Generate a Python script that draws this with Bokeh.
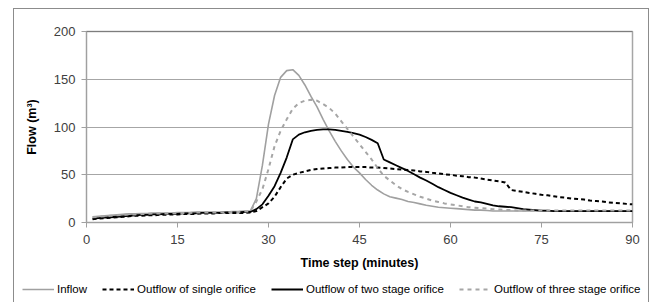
from bokeh.plotting import figure
from bokeh.models import Legend, LegendItem, Span, FixedTicker, Range1d
from bokeh.layouts import column
from bokeh.embed import file_html
from bokeh.resources import INLINE

time = list(range(1, 91))

inflow = [6, 6.5, 7, 7.5, 8, 8.5, 9, 9, 9.5, 9.5,
          10, 10, 10, 10, 10.5, 10.5, 10.5, 11, 11, 11,
          11, 11, 11, 11.5, 11.5, 12, 12, 25, 60, 103,
          133, 152, 159, 160, 154, 144, 132, 121, 108, 96,
          85, 75, 66, 58, 52, 45, 39, 34, 30, 27,
          25.5, 24, 22, 21, 19.5, 18, 17, 16, 15.5, 15,
          14.5, 14, 13.5, 13, 13, 12.5, 12, 12, 12, 12,
          12, 12, 12, 12, 12, 12, 12, 12, 12, 12,
          12, 12, 12, 12, 12, 12, 12, 12, 12, 12]

single = [3.5, 4, 4.5, 5, 5.5, 6, 6.5, 7, 7, 7.5,
          7.5, 8, 8, 8.5, 8.5, 9, 9, 9, 9.5, 9.5,
          9.5, 10, 10, 10, 10, 10, 10.5, 12, 16, 20,
          27, 37, 46, 50, 52, 53.5, 55, 56, 56.5, 57,
          57.5, 57.5, 58, 58, 58, 58, 57.5, 57.5, 57, 56.5,
          56, 55.5, 55, 54.5, 53.5, 53, 52, 51.5, 50.5, 50,
          49, 48.5, 47.5, 47, 46, 45, 44, 43, 42, 34,
          33, 32, 31, 30, 29, 28.5, 27.5, 26.5, 26, 25,
          24.5, 24, 23, 22.5, 22, 21, 20.5, 20, 19.5, 19]

two_stage = [4, 4.5, 5, 5.5, 6, 6.5, 7, 7.5, 8, 8,
             8.5, 8.5, 9, 9, 9, 9.5, 9.5, 9.5, 10, 10,
             10, 10, 10.5, 10.5, 10.5, 11, 11, 14, 19, 28,
             38, 52, 68, 87, 92, 94.5, 96, 97, 97.5, 97.5,
             97, 96, 95, 93.5, 92, 89.5, 86.5, 83, 66, 63,
             60, 57, 54, 50.5, 47, 44, 40.5, 37, 34, 31,
             28.5, 26, 24, 22, 21, 19.5, 18, 17, 16.5, 16,
             15, 14, 13.5, 13, 12.5, 12.5, 12, 12, 12, 12,
             12, 12, 12, 12, 12, 12, 12, 12, 12, 12]

three_stage = [5.5, 6, 6.5, 7, 7.5, 8, 8.5, 8.5, 9, 9,
               9.5, 9.5, 9.5, 9.5, 10, 10, 10, 10.5, 10.5, 10.5,
               10.5, 10.5, 10.5, 11, 11, 11.5, 11.5, 22, 35, 56,
               80, 96, 108, 119, 125, 127.5, 128.5, 127.5, 124, 120,
               114, 106, 98, 90, 82, 74, 66, 57, 49, 44,
               39, 35, 32, 29.5, 27, 25, 23, 21.5, 20, 19,
               18, 17, 16, 15.5, 15, 14.5, 14, 13.5, 13, 13,
               12.5, 12.5, 12.5, 12.5, 12.5, 12.5, 12.5, 12.5, 12.5, 12.5,
               12.5, 12.5, 12.5, 12.5, 12.5, 12.5, 12.5, 12.5, 12.5, 12.5]

x_ticks = [0, 15, 30, 45, 60, 75, 90]
y_ticks = [0, 50, 100, 150, 200]
labels = ["Inflow", "Outflow of single orifice", "Outflow of two stage orifice",
          "Outflow of three stage orifice"]

FONT = "Liberation Sans"
BORDER = "1px solid #8c8c8c"

p = figure(width=636, height=266, output_backend="svg", toolbar_location=None,
           x_range=Range1d(0, 90), y_range=Range1d(0, 200),
           min_border_left=72, min_border_right=18, min_border_top=22, min_border_bottom=53)
p.frame_align = False
p.styles = {"border-left": BORDER, "border-top": BORDER, "border-right": BORDER,
            "box-sizing": "border-box"}

p.outline_line_color = "#a6a6a6"
p.outline_line_width = 1.5
p.background_fill_color = "white"
p.border_fill_color = "white"

p.xgrid.visible = False
p.ygrid.ticker = FixedTicker(ticks=y_ticks)
p.ygrid.grid_line_color = "#a6a6a6"
p.ygrid.grid_line_width = 1.2

for ax in (p.xaxis[0], p.yaxis[0]):
    ax.axis_line_color = "#a0a0a0"
    ax.major_tick_line_color = "#a0a0a0"
    ax.major_tick_out = 5
    ax.major_tick_in = 0
    ax.minor_tick_line_color = None
    ax.major_label_text_font = FONT
    ax.major_label_text_font_size = "13px"
    ax.major_label_text_color = "#404040"
    ax.axis_label_text_font = FONT
    ax.axis_label_text_font_style = "bold"
    ax.axis_label_text_font_size = "12.5px"
    ax.axis_label_text_color = "#000000"

p.xaxis.ticker = FixedTicker(ticks=x_ticks)
p.yaxis.ticker = FixedTicker(ticks=y_ticks)
p.xaxis.axis_label = "Time step (minutes)"
p.yaxis.axis_label = "Flow (m³)"
p.xaxis.major_label_standoff = 7
p.xaxis.axis_label_standoff = 9
p.yaxis.major_label_standoff = 6
p.yaxis.axis_label_standoff = 12

p.add_layout(Span(location=200, dimension="width", line_color="#555555", line_width=1.2))

styles = [dict(line_color="#a0a0a0", line_width=1.6),
          dict(line_color="black", line_width=2, line_dash="4 3"),
          dict(line_color="black", line_width=1.8),
          dict(line_color="#a6a6a6", line_width=2, line_dash="4 4")]

all_series = [inflow, single, two_stage, three_stage]
for series, st in zip(all_series, styles):
    p.line(time, series, **st)

# legend strip below the plot (spans the full chart width like the original);
# its ranges keep the same series out of view, so only the legend shows
q = figure(width=636, height=28, output_backend="svg", toolbar_location=None,
           x_range=Range1d(0, 1), y_range=Range1d(-2, -1),
           x_axis_type=None, y_axis_type=None,
           min_border_left=0, min_border_right=0, min_border_top=0, min_border_bottom=0)
q.frame_align = False
q.styles = {"border-left": BORDER, "border-right": BORDER, "box-sizing": "border-box"}
q.grid.visible = False
q.outline_line_color = None
q.background_fill_color = "white"
q.border_fill_color = "white"

items = []
for lab, series, st in zip(labels, all_series, styles):
    r = q.line(time, series, **st)
    items.append(LegendItem(label=lab, renderers=[r]))

legend = Legend(items=items, orientation="horizontal", location=(8, 7),
                glyph_width=32, glyph_height=12, label_standoff=3, spacing=15,
                padding=0, margin=0, border_line_color=None,
                background_fill_alpha=0,
                label_text_font=FONT, label_text_font_size="11.5px",
                label_text_color="#000000")
q.add_layout(legend, "center")

layout = column(p, q, spacing=0)
layout.margin = (8, 0, 0, 13)

open("out.html", "w").write(file_html(layout, INLINE))
